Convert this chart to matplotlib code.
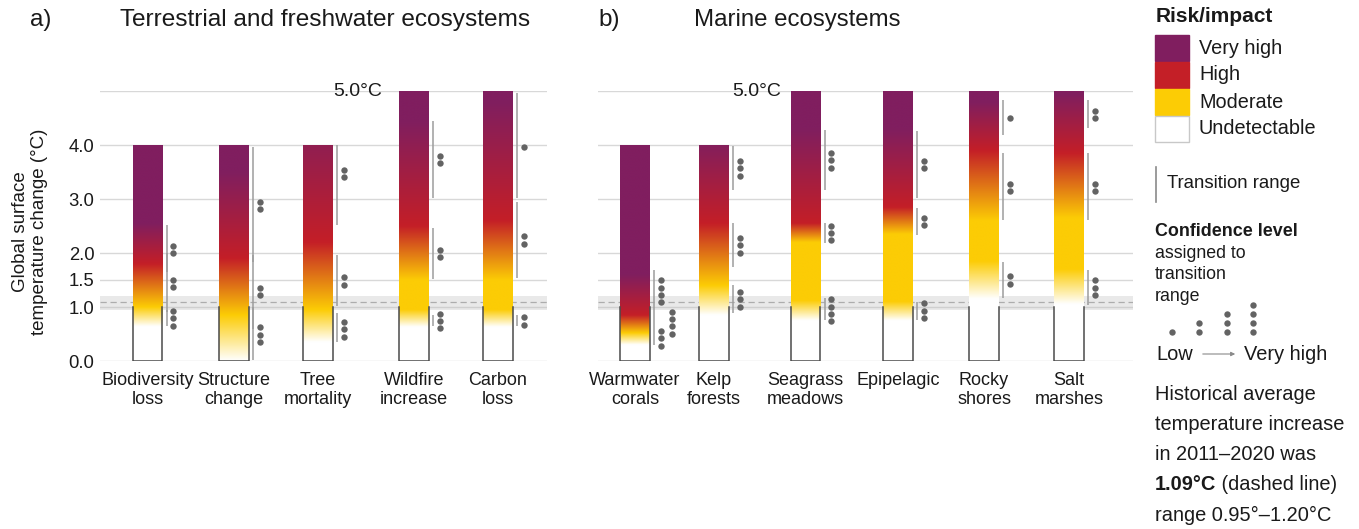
import numpy as np
import matplotlib.pyplot as plt
from matplotlib.colors import to_rgb
from matplotlib.patches import Rectangle

plt.rcParams['font.family'] = ['Liberation Sans', 'DejaVu Sans']

W, H = 1359, 529

# risk levels: undetectable, moderate, high, very high
level_colors = ["#FFFFFF", "#FCCC05", "#C41F27", "#801E5F"]
legend_labels = ["Very high", "High", "Moderate", "Undetectable"]
yticks = [0.0, 1.0, 1.5, 2.0, 3.0, 4.0]
gridlines = [0.0, 1.0, 1.5, 2.0, 3.0, 4.0, 5.0]
hist_mean, hist_lo, hist_hi = 1.09, 0.95, 1.20

# a) terrestrial and freshwater
terr_names = ["Biodiversity\nloss", "Structure\nchange", "Tree\nmortality",
              "Wildfire\nincrease", "Carbon\nloss"]
terr_top = [4.0, 4.0, 4.0, 5.0, 5.0]
# colour stops (temperature, level)
terr_stops = [
    [(0.64, 0), (1.0, 1), (1.8, 2), (2.55, 3)],
    [(0.0, 0), (0.85, 1), (1.9, 2), (3.5, 3)],
    [(0.35, 0), (0.95, 1), (2.2, 2), (4.6, 3)],
    [(0.63, 0), (0.95, 1), (1.5, 1), (2.5, 2), (4.45, 3)],
    [(0.63, 0), (0.95, 1), (1.5, 1), (2.6, 2), (4.8, 3)],
]
# transition ranges (low, high, confidence dots, dot centre, dot column)
terr_trans = [
    [(1.65, 2.52, 2, 2.07, 0), (0.9, 2.0, 2, 1.44, 0), (0.64, 0.95, 3, 0.79, 0)],
    [(1.84, 3.97, 2, 2.88, 0), (0.6, 1.96, 2, 1.29, 0), (0.02, 1.0, 3, 0.49, 0)],
    [(2.52, 4.0, 2, 3.47, 0), (1.02, 1.96, 2, 1.48, 0), (0.36, 0.88, 3, 0.59, 0)],
    [(3.01, 4.44, 2, 3.73, 0), (1.52, 2.46, 2, 1.99, 0), (0.64, 0.86, 3, 0.74, 0)],
    [(3.01, 4.96, 1, 3.97, 0), (1.53, 2.95, 2, 2.24, 0), (0.64, 0.86, 2, 0.74, 0)],
]

# b) marine
mar_names = ["Warmwater\ncorals", "Kelp\nforests", "Seagrass\nmeadows",
             "Epipelagic", "Rocky\nshores", "Salt\nmarshes"]
mar_top = [4.0, 4.0, 5.0, 5.0, 5.0, 5.0]
mar_stops = [
    [(0.3, 0), (0.52, 1), (0.85, 2), (1.6, 3)],
    [(0.85, 0), (1.4, 1), (2.55, 2), (4.1, 3)],
    [(0.75, 0), (1.12, 1), (2.2, 1), (2.55, 2), (4.3, 3)],
    [(0.75, 0), (1.1, 1), (2.35, 1), (2.85, 2), (4.3, 3)],
    [(1.15, 0), (1.85, 1), (2.6, 1), (3.9, 2), (4.8, 3)],
    [(1.05, 0), (1.7, 1), (2.65, 1), (3.85, 2), (4.95, 3)],
]
mar_trans = [
    [(0.9, 1.68, 4, 1.29, 0), (0.55, 0.9, 4, 0.71, 1), (0.3, 0.55, 3, 0.42, 0)],
    [(3.17, 3.98, 3, 3.57, 0), (1.75, 2.55, 3, 2.14, 0), (0.88, 1.41, 3, 1.14, 0)],
    [(3.17, 4.28, 3, 3.72, 0), (2.18, 2.55, 3, 2.37, 0), (0.76, 1.16, 4, 0.94, 0)],
    [(3.02, 4.26, 2, 3.64, 0), (2.33, 2.83, 2, 2.58, 0), (0.76, 1.1, 3, 0.93, 0)],
    [(4.18, 4.83, 1, 4.5, 0), (2.61, 3.85, 2, 3.21, 0), (1.16, 1.84, 2, 1.5, 0)],
    [(4.32, 4.83, 2, 4.57, 0), (2.61, 3.85, 2, 3.21, 0), (1.04, 1.68, 3, 1.36, 0)],
]

# layout (pixels)
terr_x = [147.5, 234, 318, 414, 498]
mar_x = [635, 714, 805.5, 898, 984, 1069]
hw = 14.7
px_per_deg = 54.0
dot_step = 7.4 / px_per_deg

fig = plt.figure(figsize=(W / 100, H / 100), dpi=100)


def ember_image(stops, top):
    t = np.linspace(0, top, 600)
    ts = [s[0] for s in stops]
    rgb = np.array([to_rgb(level_colors[s[1]]) for s in stops])
    img = np.stack([np.interp(t, ts, rgb[:, k]) for k in range(3)], axis=1)
    return img[:, None, :]


def draw_panel(x0, x1, xs, names, tops, stops, trans, show_ticks):
    ax = fig.add_axes([x0 / W, (H - 361) / H, (x1 - x0) / W, 270 / H])
    for g in gridlines:
        ax.axhline(g, color="#d8d8d8", lw=1.0, zorder=0)
    ax.axhspan(hist_lo, hist_hi, color="#e9e9e9", zorder=0.5, lw=0)
    ax.axhline(1.0, color="#cfcfcf", lw=1.0, zorder=0.6)
    ax.axhline(hist_mean, color="#adadad", lw=0.9, ls=(0, (5, 3)), zorder=0.7)
    for x, name, top, st, tr in zip(xs, names, tops, stops, trans):
        ax.imshow(ember_image(st, top), extent=(x - hw, x + hw, 0, top),
                  origin="lower", aspect="auto", interpolation="bilinear", zorder=3)
        ax.plot([x - hw, x - hw, x + hw, x + hw], [1.0, 0.0, 0.0, 1.0],
                color="#4a4a4a", lw=1.1, zorder=4, solid_joinstyle="miter")
        for lo, hi, n, mid, col in tr:
            ax.plot([x + hw + 4.5, x + hw + 4.5], [lo, hi], color="#9c9c9c",
                    lw=1.1, zorder=4, solid_capstyle="butt")
            ys = mid + (np.arange(n) - (n - 1) / 2) * dot_step
            ax.plot(np.full(n, x + hw + 11 + 11.5 * col), ys, "o", ms=4.6,
                    color="#636363", mec="none", zorder=5)
        ax.text(x, -0.2, name, ha="center", va="top", fontsize=13,
                linespacing=1.2, color="#1a1a1a")
    ax.set_xlim(x0, x1)
    ax.set_ylim(0, 5.0)
    for s in ax.spines.values():
        s.set_visible(False)
    ax.set_xticks([])
    if show_ticks:
        ax.set_yticks(yticks)
        ax.set_yticklabels([f"{v:.1f}" for v in yticks], fontsize=13.3, color="#1a1a1a")
        ax.tick_params(axis="y", length=0, pad=4)
    else:
        ax.set_yticks([])
    ax.patch.set_visible(False)
    return ax


ax_a = draw_panel(100, 547, terr_x, terr_names, terr_top, terr_stops, terr_trans, True)
ax_b = draw_panel(598, 1133, mar_x, mar_names, mar_top, mar_stops, mar_trans, False)
ax_a.text(382, 5.0, "5.0°C", ha="right", va="center", fontsize=14, color="#1a1a1a")
ax_b.text(781, 5.0, "5.0°C", ha="right", va="center", fontsize=14, color="#1a1a1a")

# overlay in pixel coordinates for titles and legend
ov = fig.add_axes([0, 0, 1, 1])
ov.set_xlim(0, W)
ov.set_ylim(H, 0)
ov.axis("off")
ov.patch.set_visible(False)

tc = "#1a1a1a"
ov.text(30, 20, "a)", fontsize=17.5, va="center", color=tc)
ov.text(120, 20, "Terrestrial and freshwater ecosystems", fontsize=17.6, va="center", color=tc)
ov.text(598, 20, "b)", fontsize=17.5, va="center", color=tc)
ov.text(694, 20, "Marine ecosystems", fontsize=17.3, va="center", color=tc)
ov.text(30, 232, "Global surface\ntemperature change (°C)", rotation=90, ha="center",
        va="center", fontsize=13.5, linespacing=1.15, multialignment="center", color=tc)

ov.text(1156, 17, "Risk/impact", fontsize=15, fontweight="bold", va="center", color=tc)
sw_colors = level_colors[::-1]
for i, (c, lab) in enumerate(zip(sw_colors, legend_labels)):
    y0 = 35 + i * 27
    ov.add_patch(Rectangle((1155, y0), 34, 26, facecolor=c,
                           edgecolor="#c8c8c8" if c == "#FFFFFF" else c, lw=1.0))
    ov.text(1199, y0 + 13, lab, fontsize=14.3, va="center", color=tc)

ov.plot([1155.7, 1155.7], [167, 202], color="#8a8a8a", lw=1.2)
ov.text(1167, 184, "Transition range", fontsize=13.4, va="center", color=tc)

ov.text(1155, 231, "Confidence level", fontsize=12.9, fontweight="bold", va="center", color=tc)
for j, s in enumerate(["assigned to", "transition", "range"]):
    ov.text(1155, 253 + j * 21.7, s, fontsize=12.8, va="center", color=tc)
for k, cx in enumerate([1171.7, 1199, 1226.7, 1253.3]):
    ys = 331.7 - np.arange(k + 1) * 8.8
    ov.plot(np.full(k + 1, cx), ys, "o", ms=4.6, color="#636363", mec="none")
ov.text(1156, 354, "Low", fontsize=14.4, va="center", color=tc)
ov.annotate("", xy=(1238, 354), xytext=(1200, 354),
            arrowprops=dict(arrowstyle="-|>", color="#8a8a8a", lw=0.8, mutation_scale=6))
ov.text(1244, 354, "Very high", fontsize=14.4, va="center", color=tc)

hist_lines = ["Historical average", "temperature increase", "in 2011–2020 was"]
for j, s in enumerate(hist_lines):
    ov.text(1155, 394 + j * 30.2, s, fontsize=14.4, va="center", color=tc)
tb = ov.text(1155, 485, "1.09°C", fontsize=14.4, fontweight="bold", va="center", color=tc)
ov.annotate(" (dashed line)", xy=(1, 0.5), xycoords=tb, va="center", ha="left",
            fontsize=14.4, color=tc)
ov.text(1155, 515, "range 0.95°–1.20°C", fontsize=14.4, va="center", color=tc)

fig.savefig("out.png", dpi=100)
